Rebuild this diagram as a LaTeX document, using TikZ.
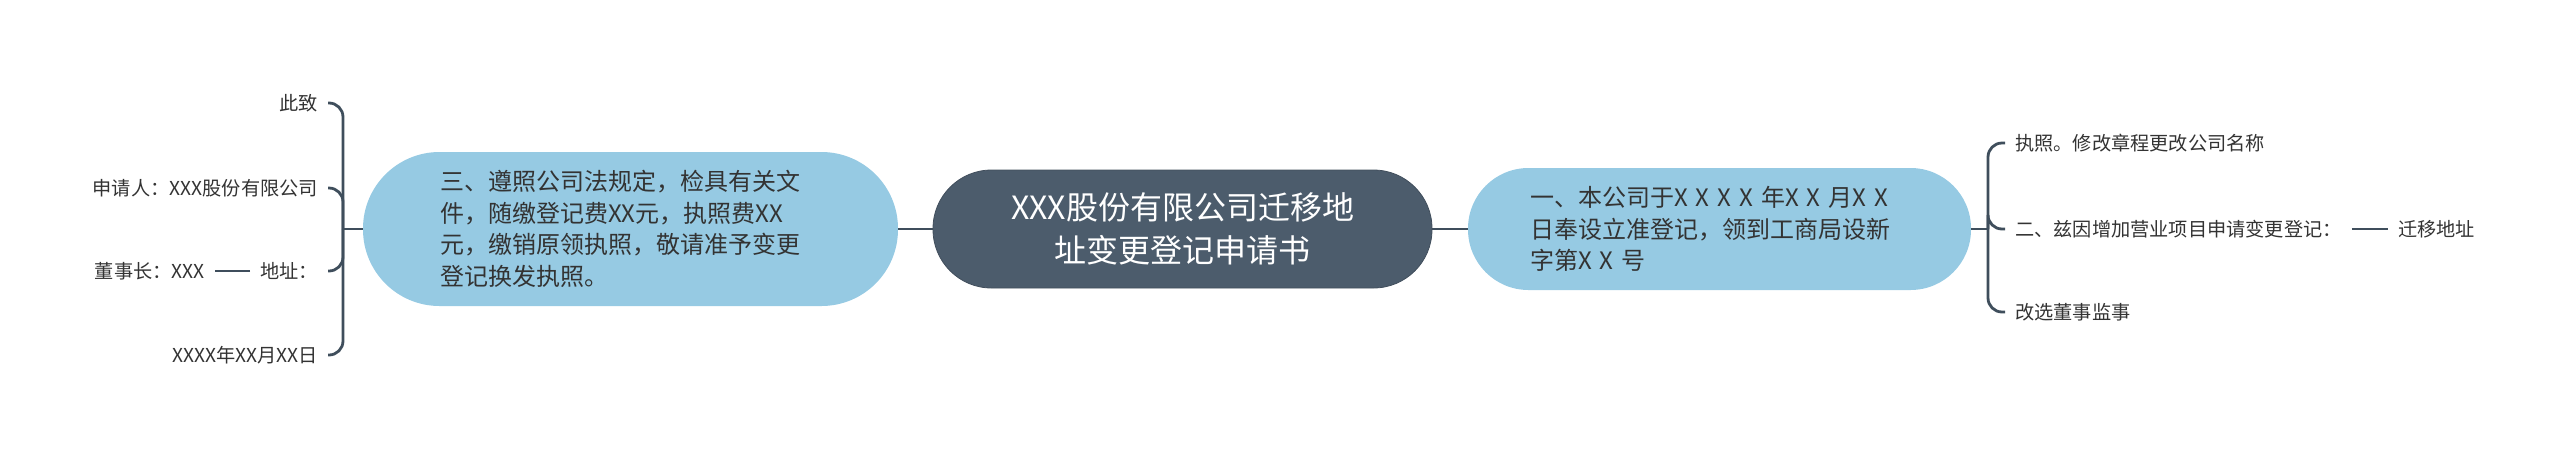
\documentclass[tikz,border=0pt]{standalone}
\usepackage{fontspec}
\setmainfont{Noto Sans CJK SC}
\usetikzlibrary{positioning}
\definecolor{linkcol}{HTML}{3F4E5C}
\definecolor{topicblue}{HTML}{96CAE3}
\definecolor{rootgrey}{HTML}{4C5C6C}
\definecolor{inkgrey}{HTML}{333333}
\begin{document}
\begin{tikzpicture}[x=1pt,y=-1pt,
    root/.style={fill=rootgrey,draw=rootgrey!85!black,line width=0.8pt,text=white,
      rounded corners=58.5pt,minimum width=499pt,minimum height=118pt,inner sep=0pt,
      align=center,font=\fontsize{32}{43}\selectfont},
    topic/.style={fill=topicblue,text=inkgrey,inner ysep=0pt,align=left,
      font=\fontsize{24}{31.5}\selectfont},
    leaf/.style={text=inkgrey,inner xsep=10pt,inner ysep=2pt,
      font=\fontsize{19.2}{23}\selectfont},
    link/.style={draw=linkcol,line width=2.8pt}]
      \useasboundingbox (0,0) rectangle (2560,459);
      \draw
        (1182.5,229) node[root] (root){XXX股份有限公司迁移地\\址变更登记申请书}
        (630.5,229) node[topic,text width=381pt,inner xsep=77pt,minimum height=154pt,
          rounded corners=76.5pt] (san){三、遵照公司法规定，检具有关文\\件，随缴登记费XX元，执照费XX\\元，缴销原领执照，敬请准予变更\\登记换发执照。}
        (1719.5,229) node[topic,text width=379pt,inner xsep=62pt,minimum height=122pt,
          rounded corners=60.5pt] (yi){一、本公司于X~X~X~X~年X~X~月X~X\\日奉设立准登记，领到工商局设新\\字第X~X~号}
        (343,229) coordinate (lhub)
        (1988,229) coordinate (rhub)
        (328,103) node[leaf,anchor=east] (cizhi){此致}
        (328,188) node[leaf,anchor=east] (shenqing){申请人：XXX股份有限公司}
        (328,271) node[leaf,anchor=east] (dizhi){地址：}
        (328,355) node[leaf,anchor=east] (riqi){XXXX年XX月XX日}
        (2005,143) node[leaf,anchor=west] (zhizhao){执照。修改章程更改公司名称}
        (2005,229) node[leaf,anchor=west] (er){二、兹因增加营业项目申请变更登记：}
        (2005,312) node[leaf,anchor=west] (gaixuan){改选董事监事};
      \node[leaf,left=35pt of dizhi] (dongshi){董事长：XXX};
      \node[leaf,right=36pt of er] (qianyi){迁移地址};
      \begin{scope}[link]
        \draw (root) to (san);
        \draw (root) to (yi);
        \draw (san.west) to (lhub);
        \draw (yi.east) to (rhub);
        \draw (dizhi) to (dongshi);
        \draw (er) to (qianyi);
      \end{scope}
      \begin{scope}[link,rounded corners=14pt]
        \draw (lhub) |- (cizhi.east);
        \draw (lhub) |- (shenqing.east);
        \draw (lhub) |- (dizhi.east);
        \draw (lhub) |- (riqi.east);
        \draw (rhub) |- (zhizhao.west);
        \draw (rhub) |- (er.west);
        \draw (rhub) |- (gaixuan.west);
      \end{scope}
    \end{tikzpicture}
\end{document}
